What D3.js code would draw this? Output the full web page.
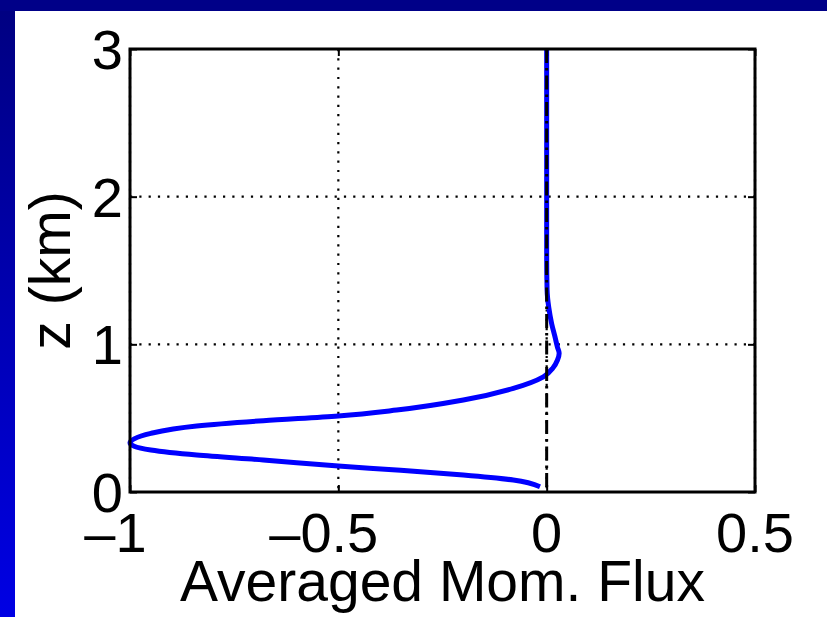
<!DOCTYPE html>
<html>
<head>
<meta charset="utf-8">
<script src="https://cdn.jsdelivr.net/npm/d3@7"></script>
<style>
  body { margin: 0; background: #fff; }
  text { font-family: "Liberation Sans", Arial, Helvetica, sans-serif; fill: #000; }
</style>
</head>
<body>
<svg id="chart" width="827" height="617"></svg>
<script>
// height (km) and averaged momentum flux
var heightKm = [0.036, 0.081, 0.115, 0.149, 0.176, 0.217, 0.25, 0.284, 0.31, 0.334, 0.36, 0.397, 0.447, 0.483, 0.515, 0.555, 0.623, 0.702, 0.78, 0.84, 0.894, 0.94, 0.98, 1.05, 1.14, 1.25, 1.37, 1.6, 2.0, 2.5, 3.0]
var momFlux  = [-0.016, -0.08, -0.2, -0.36, -0.5, -0.68, -0.84, -0.95, -0.99, -1.0, -0.99, -0.95, -0.84, -0.68, -0.5, -0.36, -0.2, -0.08, -0.008, 0.015, 0.026, 0.03, 0.026, 0.02, 0.012, 0.005, 0.001, 0, 0, 0, 0]
var xTicks = [-1, -0.5, 0, 0.5]
var yTicks = [0, 1, 2, 3]
var xLabel = 'Averaged Mom. Flux'
var yLabel = 'z (km)'

var W = 827, H = 617
// note: "top" is taken by window.top, so plot edges get their own names
var plotL = 130, plotR = 755, plotT = 49, plotB = 492
var fontSize = 56

var svg = d3.select('#chart')

// slide frame: blue bands at top and left
var defs = svg.append('defs')
var grad = defs.append('linearGradient').attr('id', 'band').attr('x1', 0).attr('y1', 0).attr('x2', 0).attr('y2', 1)
grad.append('stop').attr('offset', '0%').attr('stop-color', '#000080')
grad.append('stop').attr('offset', '100%').attr('stop-color', '#0000e4')
svg.append('rect').attr('x', 0).attr('y', 0).attr('width', 15).attr('height', H).attr('fill', 'url(#band)')
svg.append('rect').attr('x', 0).attr('y', 0).attr('width', W).attr('height', 11).attr('fill', '#000088')

var x = d3.scaleLinear().domain([-1, 0.5]).range([plotL, plotR])
var y = d3.scaleLinear().domain([0, 3]).range([plotB, plotT])

// dotted grid
var grid = svg.append('g')
grid.selectAll('.vgrid').data(xTicks).enter().append('line')
  .attr('x1', function(d){return x(d)}).attr('x2', function(d){return x(d)})
  .attr('y1', plotT).attr('y2', plotB)
  .attr('stroke', '#000').attr('stroke-width', 2.2).attr('stroke-dasharray', '2.2,7.1')
grid.selectAll('.hgrid').data(yTicks).enter().append('line')
  .attr('y1', function(d){return y(d)}).attr('y2', function(d){return y(d)})
  .attr('x1', plotL).attr('x2', plotR)
  .attr('stroke', '#000').attr('stroke-width', 2.2).attr('stroke-dasharray', '2.2,7.1')

// flux profile
var line = d3.line()
  .x(function(d){return x(d[1])})
  .y(function(d){return y(d[0])})
  .curve(d3.curveMonotoneY)
svg.append('path')
  .datum(d3.zip(heightKm, momFlux))
  .attr('d', line)
  .attr('fill', 'none')
  .attr('stroke', '#0000ff')
  .attr('stroke-width', 5)
  .attr('stroke-linejoin', 'round')

// zero reference, dash-dot
svg.append('line')
  .attr('x1', x(0)).attr('x2', x(0))
  .attr('y1', y(3)).attr('y2', y(0))
  .attr('stroke', '#000').attr('stroke-width', 3)
  .attr('stroke-dasharray', '14,5,2.5,5')

// inward ticks from d3 axes
function tickAxis(axis, tx, ty){
  var g = svg.append('g').attr('transform', 'translate(' + tx + ',' + ty + ')').call(axis)
  g.select('.domain').remove()
  g.selectAll('.tick line').attr('stroke', '#000').attr('stroke-width', 2)
  g.selectAll('.tick text').remove()
}
tickAxis(d3.axisBottom(x).tickValues(xTicks).tickSize(-7), 0, plotB)
tickAxis(d3.axisTop(x).tickValues(xTicks).tickSize(-7), 0, plotT)
tickAxis(d3.axisLeft(y).tickValues(yTicks).tickSize(-7), plotL, 0)
tickAxis(d3.axisRight(y).tickValues(yTicks).tickSize(-7), plotR, 0)

// box
svg.append('rect')
  .attr('x', plotL).attr('y', plotT)
  .attr('width', plotR - plotL).attr('height', plotB - plotT)
  .attr('fill', 'none').attr('stroke', '#000').attr('stroke-width', 3)

// x tick labels: number centered on tick, minus hanging to the left
var xl = svg.append('g')
xTicks.forEach(function(d){
  var t = xl.append('text')
    .attr('y', plotB + 60)
    .attr('text-anchor', 'start')
    .style('font-size', fontSize + 'px')
    .text(String(Math.abs(d)))
  var w = t.node().getComputedTextLength()
  var full = d < 0 ? '\u2013' + String(Math.abs(d)) : String(d)
  t.text(full)
  var wf = t.node().getComputedTextLength()
  t.attr('x', x(d) - w/2 - (wf - w) + (d < 0 ? 1 : 0))
})

// y tick labels
svg.append('g').selectAll('text').data(yTicks).enter().append('text')
  .attr('x', plotL - 7)
  .attr('y', function(d){return y(d) + 20})
  .attr('text-anchor', 'end')
  .style('font-size', fontSize + 'px')
  .text(function(d){return d})

// axis labels
svg.append('text')
  .attr('x', (plotL + plotR)/2).attr('y', 601)
  .attr('text-anchor', 'middle')
  .style('font-size', '57px')
  .text(xLabel)

svg.append('text')
  .attr('transform', 'translate(70,' + ((plotT + plotB)/2) + ') rotate(-90)')
  .attr('text-anchor', 'middle')
  .style('font-size', '57px')
  .text(yLabel)
</script>
</body>
</html>
